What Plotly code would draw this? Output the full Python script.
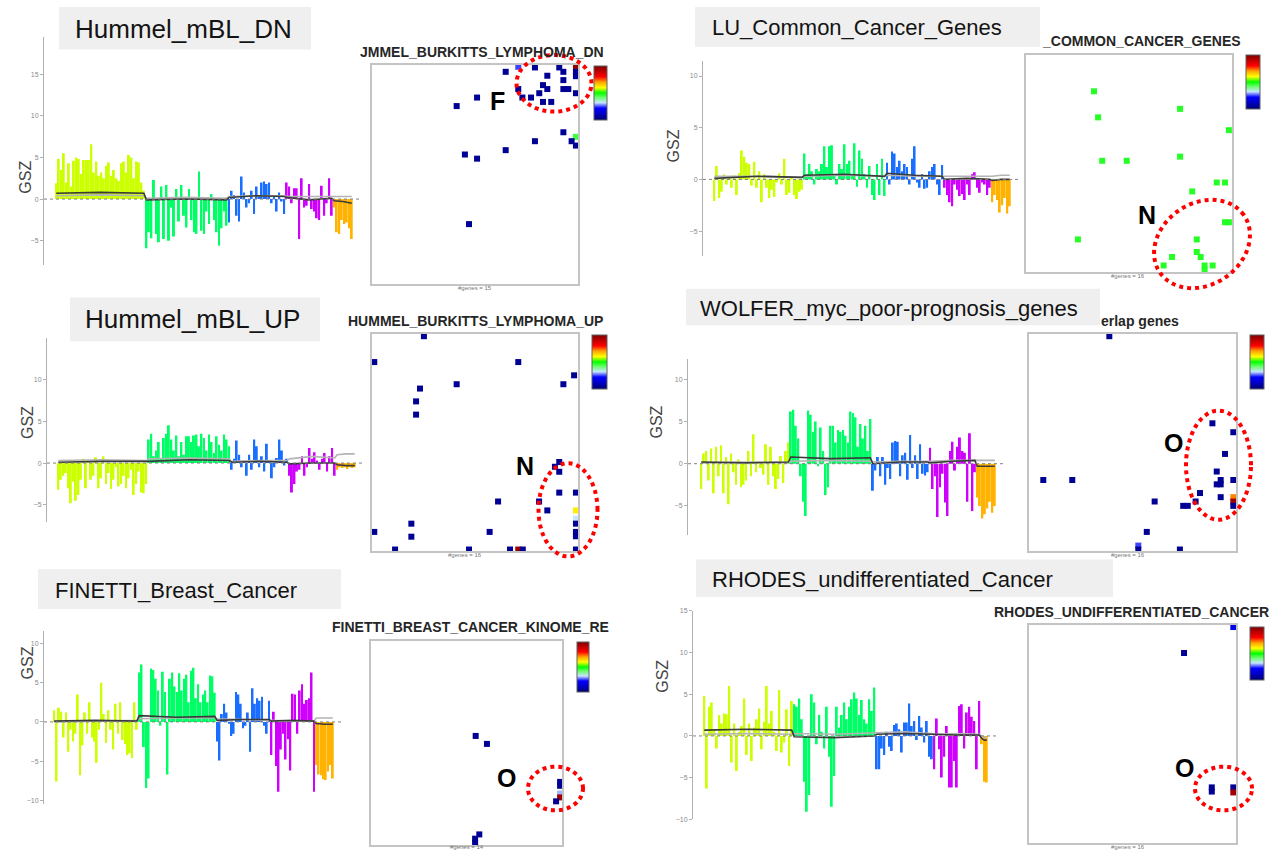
import numpy as np
import plotly.graph_objects as go

W, H = 1281, 852
FONT = "Liberation Sans, Arial, Helvetica, sans-serif"

# cluster colours: yellow, green, blue, purple, orange
GROUP_COLORS = ["#ccff00", "#00ff66", "#1a6eff", "#d000ff", "#ffb300"]

# ---------------- GSZ bars per cluster ----------------
dn_gsz = [
    [1.9, 4.8, 3.5, 5.5, 2.0, 4.3, 1.5, 4.6, 5.0, 4.8, 3.0, 4.7, 4.7, 4.7, 6.6, 3.2, 4.5, 2.8,
     3.2, 2.5, 4.0, 4.4, 2.8, 3.5, 2.5, 2.2, 4.3, 4.5, 3.2, 5.3, 5.0, 2.5, 4.5, 4.4, 2.0, 1.0],
    [-5.9, -4.0, -4.7, 2.3, -4.2, -5.2, 1.5, -4.8, 1.7, -5.0, -1.0, -4.5, 1.2, -2.7, 1.7, -2.0,
     -3.4, 1.2, -2.5, -4.0, -4.2, 3.3, -3.8, -4.2, -1.5, -3.0, 0.6, -2.5, -4.0, -5.6, -3.5, -1.5, -3.2],
    [-2.8, 1.0, 0.5, -2.0, -2.7, 2.7, 0.8, -1.0, -0.5, 1.0, -1.8, 1.5, 0.3, 2.0, 2.1, 1.8, 2.0,
     -0.5, 0.5, -1.5, 0.8, -0.3, -1.8],
    [2.0, 1.5, -0.5, 1.3, 1.3, -4.8, 2.5, -1.0, -0.8, 1.8, -1.2, -1.5, -2.3, -2.5, 1.6, -2.0,
     -0.5, 2.5, -2.0],
    [-1.0, -4.0, -4.2, -2.5, -3.0, -2.8, -3.5, -4.8],
]
lu_gsz = [
    [-2.1, 1.3, -1.8, -1.2, 0.5, -0.5, 0.3, -0.8, 0.4, -1.5, 0.6, 2.8, 2.2, 1.6, 1.5, -0.6, 1.7,
     -0.8, 0.8, -2.2, 0.5, -0.8, -1.8, -1.0, -1.7, -0.3, 0.6, -0.5, 2.0, -1.5, -1.3, 0.3, -1.5,
     -1.9, -1.2, -1.0],
    [2.5, 0.5, 1.5, 0.8, -0.5, 1.0, 0.8, 1.5, 3.2, 1.2, 3.2, 3.3, 0.5, -0.5, 1.5, 1.0, 3.4, 1.5,
     1.8, 0.5, 3.5, -0.7, 2.8, 2.0, 0.5, -0.8, 1.3, -1.5, -2.0, 1.5, -1.5, 2.0, -1.6],
    [1.6, -0.5, 2.7, 2.5, 1.2, 1.8, 0.8, 1.5, 1.2, -0.5, 2.0, 3.2, -0.3, -0.8, 0.5, -0.9, -0.8,
     0.8, 1.2, 1.5, -0.5, -1.5, 1.4],
    [-0.8, -1.5, -2.2, -2.6, -0.5, -1.0, -1.6, -1.4, -2.0, -0.5, -1.5, 0.5, 0.7, -0.8, -1.3,
     -0.3, -0.5, -1.5, -0.8],
    [-2.2, -1.5, -2.0, -3.2, -2.5, -1.8, -3.3, -2.6],
]
up_gsz = [
    [-3.2, -2.0, -1.5, -1.2, -3.0, -4.8, -2.2, -4.5, -3.8, -2.0, 0.5, -3.0, 0.3, -2.0, -1.5, 0.7,
     -3.0, -1.8, 0.8, -2.5, -1.2, -3.1, -2.0, -0.5, -2.8, -2.5, -1.5, -3.0, -1.8, -0.8, -3.8,
     -2.5, -1.0, -3.5, -3.6, -2.5],
    [2.8, 3.5, 0.8, 1.5, 2.5, 0.5, 3.0, 3.5, 4.5, 2.8, 1.5, 3.3, 0.8, 2.5, 1.0, 3.2, 3.2, 2.5,
     3.3, 3.4, 2.0, 3.5, 3.0, 1.5, 3.4, 2.5, 1.2, 3.2, 2.2, 1.5, 3.4, 2.8, 2.0],
    [-0.8, 0.5, 2.7, 1.0, -0.5, 0.3, -1.5, 1.0, -0.8, 2.8, 2.0, -0.5, 0.8, -1.0, 2.3, 0.3, -1.8,
     -0.5, 0.6, 2.8, 1.5, -0.3, 0.5],
    [-1.5, -3.5, -2.5, -1.0, -0.8, 0.8, -1.5, -0.5, 1.8, 0.5, 1.3, 0.3, -0.8, 0.5, 1.2, -1.0,
     0.8, 1.8, -1.5],
    [-0.8, -0.5, -0.6, -0.5, -0.7, -0.5, -0.6, -0.5],
]
wo_gsz = [
    [-3.0, 1.2, 1.5, -2.0, 1.8, -3.5, 2.0, -1.5, 2.2, -3.5, 0.8, -4.8, 1.2, -1.0, -2.5, 0.5,
     -2.8, -2.5, -2.0, 1.5, -1.5, 3.5, -1.0, 0.3, -0.5, -1.3, 2.3, -2.5, 2.0, -1.5, -3.0, -1.8,
     0.9, -2.3, 1.5, 2.5],
    [6.2, 6.4, 4.5, 3.0, -1.5, -4.5, -6.2, 6.3, 5.8, 3.8, 5.0, -0.3, 4.3, 1.5, -3.7, -2.8, 4.5,
     4.5, 2.5, 4.0, 3.8, 4.0, 3.3, 2.5, 6.2, 6.0, 5.5, 2.0, 4.7, 3.0, 4.5, 1.5, 5.3],
    [-3.2, -0.8, 0.8, -1.5, 0.8, -2.5, -0.5, -1.8, 2.5, 2.7, 2.6, -1.5, 1.0, 1.3, -1.9, 3.4,
     -0.5, 1.0, -1.8, 2.3, -1.2, -1.4, -1.0],
    [1.9, -3.0, -1.5, -6.3, -2.8, -1.2, -4.6, -6.2, 1.5, 2.6, -0.8, 2.0, 3.1, 1.5, 1.3, -4.5,
     3.6, -5.6, -1.0],
    [-4.0, -5.0, -6.5, -6.0, -5.3, -4.5, -5.8, -5.0],
]
fi_gsz = [
    [1.5, -7.6, 1.8, 1.3, -2.0, 1.2, -3.8, -1.0, -2.5, -1.5, 3.5, -6.8, -3.0, 1.2, -1.5, 2.5,
     -2.0, -2.5, -5.2, -1.0, 5.0, 1.0, -2.7, 1.5, -1.0, -3.5, 2.3, -1.5, 2.5, -2.3, -2.8, -4.2,
     -4.0, -4.6, 2.5, -1.0],
    [6.3, 7.3, -3.2, -8.4, -7.2, 6.8, 6.6, 5.5, 4.0, -0.5, 6.4, 3.8, -6.7, 5.5, 6.3, 4.5, 3.8,
     6.2, 4.0, 5.5, 6.0, 2.5, 6.5, 6.9, 3.0, 4.8, 2.5, 3.5, 4.0, 2.5, 5.9, 5.8, 3.7],
    [-2.5, -4.9, 1.0, 2.3, 1.2, -0.2, -1.8, -1.5, 3.8, 3.5, 2.3, -0.8, -0.5, 1.2, -3.8, 4.3,
     2.3, 3.0, 2.7, 3.2, -0.5, -1.5, 2.7],
    [-4.2, 1.3, -5.6, -8.9, -3.5, -1.5, -4.8, -2.2, -6.2, 3.6, 3.5, -1.5, 4.0, 4.8, 2.3, 2.8,
     3.0, 6.3, -8.9],
    [-5.5, -6.7, -6.8, -7.3, -7.4, -6.3, -5.5, -7.2],
]
rh_gsz = [
    [4.8, -6.3, 3.5, 4.0, 0.8, -1.5, 2.5, 1.5, 2.7, 2.6, 6.0, -3.2, 1.5, -4.2, 0.5, 1.2, 4.5,
     -2.3, 1.5, -3.0, 1.0, 2.0, 3.3, -1.6, 1.7, 6.0, 1.5, 3.0, 0.5, -1.8, 5.5, -2.0, -0.8, 3.2,
     -3.6, 4.2],
    [3.8, 3.5, 4.5, 2.0, -5.5, -9.1, -7.1, 5.0, 4.0, -1.0, 2.5, 0.5, -1.5, 3.5, -2.5, -8.5,
     -4.8, 3.5, 1.0, 2.5, 4.0, 2.0, 3.5, 4.4, 5.2, 4.5, 2.5, 4.3, 2.0, 1.5, 4.4, 3.0, 5.8],
    [-4.0, -4.0, -1.5, -2.3, 0.5, -1.3, -1.8, 1.3, 1.5, 0.8, -2.0, 1.6, 1.6, 3.9, 1.2, 1.8,
     -0.5, 2.4, 1.0, -0.8, 1.8, -2.5, -2.8],
    [-4.0, 2.1, -1.6, -5.0, -2.5, 1.2, -6.2, -6.2, -3.0, -6.2, 3.6, 3.8, -1.5, 2.8, 3.5, 2.3,
     1.8, -4.0, 4.2],
    [-1.0, -5.5, -5.6],
]

# ---------------- running-mean traces (start, middle, end of each cluster) ----------------
dn_dark = [[0.7, 0.8, 0.7], [-0.1, 0.0, -0.1], [0.2, 0.4, 0.3], [0.2, -0.1, 0.1], [-0.2, -0.3, -0.5]]
dn_light = [[0.4, 0.5, 0.4], [0.1, 0.2, 0.1], [0.3, 0.4, 0.4], [0.3, 0.3, 0.3], [0.3, 0.3, 0.3]]
lu_dark = [[0.1, 0.3, 0.2], [0.4, 0.5, 0.3], [0.6, 0.4, 0.3], [0.0, 0.1, 0.0], [-0.1, 0.0, 0.0]]
lu_light = [[0.3, 0.3, 0.2], [0.3, 0.4, 0.3], [0.4, 0.3, 0.3], [0.3, 0.3, 0.3], [0.3, 0.4, 0.4]]
up_dark = [[0.1, 0.2, 0.2], [0.2, 0.4, 0.3], [0.1, 0.2, 0.1], [-0.1, 0.0, 0.0], [-0.2, -0.3, -0.3]]
up_light = [[0.3, 0.4, 0.3], [0.5, 0.6, 0.5], [0.2, 0.3, 0.3], [0.5, 0.8, 0.6], [1.0, 1.1, 1.1]]
wo_dark = [[0.2, 0.1, 0.2], [0.8, 0.6, 0.7], [0.0, 0.2, 0.2], [0.1, 0.3, 0.4], [-0.3, -0.3, -0.3]]
wo_light = [[0.1, 0.2, 0.1], [0.3, 0.4, 0.3], [0.2, 0.3, 0.3], [0.3, 0.4, 0.4], [0.4, 0.4, 0.4]]
fi_dark = [[0.1, 0.2, 0.1], [0.8, 0.6, 0.7], [0.2, 0.3, 0.3], [0.1, 0.2, 0.1], [-0.2, -0.3, -0.3]]
fi_light = [[0.0, 0.1, 0.2], [0.4, 0.5, 0.5], [0.4, 0.3, 0.2], [0.1, 0.1, 0.1], [0.5, 0.5, 0.5]]
rh_dark = [[0.7, 0.8, 0.7], [-0.1, -0.2, 0.0], [0.2, 0.3, 0.2], [0.2, 0.1, 0.1], [-0.3, -0.5, -0.5]]
rh_light = [[0.2, 0.3, 0.2], [0.3, 0.2, 0.4], [0.4, 0.5, 0.3], [0.2, 0.3, 0.2], [0.0, -0.2, -0.3]]

# ---------------- overlap-gene positions (rank %, rank %, colour value) ----------------
dn_x = [64.9, 71.0, 79.1, 90.9, 92.9, 99.0, 99.0, 99.0, 85.1, 92.9, 83.0, 71.0, 85.1, 92.9, 95.3,
        81.2, 99.0, 73.0, 77.2, 83.0, 87.0, 51.0, 41.1, 92.9, 99.0, 79.1, 96.9, 99.0, 64.9, 45.1,
        51.0, 47.1]
dn_y = [97.1, 99.4, 99.1, 99.1, 97.1, 99.1, 97.1, 95.1, 95.3, 93.3, 91.0, 89.2, 89.2, 89.2, 89.2,
        87.3, 87.3, 85.3, 85.3, 83.3, 83.3, 85.3, 81.4, 69.4, 67.3, 65.3, 65.3, 63.3, 61.2, 59.2,
        57.3, 27.3]
dn_v = [0.05, 0.25, 0.05, 0.05, 0.05, 0.97, 0.05, 0.05, 0.05, 0.05, 0.05, 0.05, 0.05, 0.05, 0.05,
        0.05, 0.05, 0.05, 0.05, 0.05, 0.05, 0.05, 0.05, 0.05, 0.45, 0.05, 0.05, 0.05, 0.05, 0.05,
        0.05, 0.05]

lu_x = [33.0, 35.0, 74.8, 98.5, 37.0, 48.9, 74.8, 80.7, 92.6, 96.6, 96.6, 98.5, 25.2, 82.9, 70.9,
        82.9, 84.8, 66.8, 86.7, 86.7, 90.6]
lu_y = [83.1, 71.1, 75.0, 65.2, 51.1, 51.1, 53.0, 37.0, 41.1, 41.1, 22.8, 22.8, 14.9, 14.9, 6.8,
        9.1, 6.8, 2.9, 2.9, 0.9, 2.9]
lu_v = [0.47] * 21

up_x = [25.2, 1.1, 71.0, 98.1, 41.1, 92.9, 23.3, 21.4, 21.4, 90.9, 88.8, 90.9, 90.9, 99.0, 61.2,
        81.1, 85.1, 99.0, 99.0, 99.0, 99.0, 99.0, 19.1, 1.1, 19.1, 57.1, 11.2, 47.1, 67.0, 71.0,
        73.2, 99.0]
up_y = [99.1, 87.2, 87.2, 81.1, 77.0, 77.0, 75.0, 69.1, 63.0, 41.2, 39.0, 36.7, 27.1, 27.1, 23.0,
        23.0, 18.9, 18.9, 15.1, 12.8, 9.0, 7.0, 12.8, 9.0, 6.8, 9.0, 0.9, 0.9, 0.9, 0.9, 0.9, 0.9]
up_v = [0.05, 0.05, 0.05, 0.05, 0.05, 0.05, 0.05, 0.05, 0.05, 0.05, 0.05, 0.05, 0.05, 0.05, 0.05,
        0.05, 0.05, 0.62, 0.32, 0.05, 0.05, 0.05, 0.05, 0.05, 0.05, 0.05, 0.05, 0.05, 0.05, 0.95,
        0.05, 0.05]

wo_x = [38.8, 88.6, 98.7, 94.7, 90.7, 92.6, 90.7, 92.6, 98.7, 82.6, 92.6, 98.7, 98.7, 98.7, 6.9,
        20.9, 60.7, 74.5, 76.7, 80.5, 56.9, 52.8, 52.8, 72.9]
wo_y = [99.1, 59.0, 54.9, 44.9, 36.8, 32.9, 30.9, 30.9, 32.9, 26.9, 25.0, 25.0, 23.0, 21.0, 32.9,
        32.9, 23.0, 21.0, 21.0, 23.0, 9.0, 2.7, 0.9, 0.9]
wo_v = [0.05, 0.05, 0.05, 0.05, 0.05, 0.05, 0.05, 0.05, 0.05, 0.05, 0.05, 0.72, 0.95, 0.05, 0.05,
        0.05, 0.05, 0.05, 0.05, 0.05, 0.05, 0.25, 0.05, 0.05]

fi_x = [54.8, 60.7, 99.0, 99.0, 99.0, 99.0, 96.9, 56.7, 54.5, 54.5]
fi_y = [53.4, 49.5, 30.9, 29.0, 25.2, 23.3, 21.4, 5.2, 3.1, 1.1]
fi_v = [0.05, 0.05, 0.05, 0.05, 0.3, 0.95, 0.05, 0.05, 0.05, 0.05]

rh_x = [98.7, 74.9, 88.3, 88.3, 98.7, 98.7]
rh_y = [99.0, 87.1, 25.5, 23.6, 25.5, 23.2]
rh_v = [0.18, 0.05, 0.05, 0.05, 0.05, 0.95]

OVERLAP_SCALE = [
    [0.0, "#000070"], [0.12, "#0000c8"], [0.22, "#0000ff"], [0.32, "#c8e4ff"],
    [0.42, "#66ff66"], [0.5, "#00ff00"], [0.6, "#ffff00"], [0.7, "#ffa500"],
    [0.8, "#ff0000"], [1.0, "#800000"],
]

# ---------------- panel geometry (pixels) ----------------
panels = [
    dict(label="Hummel_mBL_DN", label_box=(59, 3, 311, 46), label_xy=(73, 25), label_size=26,
         gsz=dn_gsz, dark=dn_dark, light=dn_light, yrange=(-7.9, 19.5), ticks=[-5, 0, 5, 10, 15],
         axis_x=43, bar_x=(55, 353), bar_y=(33, 263), gsz_xy=(15, 156),
         title="JMMEL_BURKITTS_LYMPHOMA_DN", title_xy=(482, 48), title_anchor="center",
         box=(372, 62, 578, 282), cb=(594, 63, 607, 117), pts=(dn_x, dn_y, dn_v),
         ring=(554, 80, 37.5, 28.5, 0), letter="F", letter_xy=(497, 98),
         genes="#genes = 15", genes_xy=(475, 286)),
    dict(label="LU_Common_Cancer_Genes", label_box=(695, 3, 1040, 43), label_xy=(710, 24),
         label_size=22, gsz=lu_gsz, dark=lu_dark, light=lu_light, yrange=(-7.4, 11.5),
         ticks=[-5, 0, 5, 10], axis_x=702, bar_x=(713, 1011), bar_y=(57, 254), gsz_xy=(673, 125),
         title="_COMMON_CANCER_GENES", title_xy=(1141, 37), title_anchor="center",
         box=(1026, 51, 1232, 270), cb=(1246, 52, 1260, 106), pts=(lu_x, lu_y, lu_v),
         ring=(1202, 242, 51, 41, 35), letter="N", letter_xy=(1147, 213),
         genes="#genes = 16", genes_xy=(1128, 274)),
    dict(label="Hummel_mBL_UP", label_box=(70, 296, 320, 340), label_xy=(83, 318), label_size=26,
         gsz=up_gsz, dark=up_dark, light=up_light, yrange=(-7.0, 14.9), ticks=[-5, 0, 5, 10],
         axis_x=46, bar_x=(57, 356), bar_y=(337, 522), gsz_xy=(17, 422),
         title="HUMMEL_BURKITTS_LYMPHOMA_UP", title_xy=(475, 320), title_anchor="center",
         box=(372, 333, 578, 552), cb=(592, 334, 607, 388), pts=(up_x, up_y, up_v),
         ring=(568, 510, 29.5, 47, 0), letter="N", letter_xy=(525, 466),
         genes="#genes = 16", genes_xy=(465, 556)),
    dict(label="WOLFER_myc_poor-prognosis_genes", label_box=(686, 287, 1100, 324),
         label_xy=(698, 307), label_size=22, gsz=wo_gsz, dark=wo_dark, light=wo_light,
         yrange=(-8.4, 12.4), ticks=[-5, 0, 5, 10], axis_x=687, bar_x=(700, 996),
         bar_y=(358, 535), gsz_xy=(657, 422),
         title="erlap genes", title_xy=(1140, 320), title_anchor="center",
         box=(1029, 333, 1236, 552), cb=(1250, 334, 1264, 388), pts=(wo_x, wo_y, wo_v),
         ring=(1218.5, 465, 32.5, 55, 0), letter="O", letter_xy=(1173, 443),
         genes="#genes = 16", genes_xy=(1128, 556)),
    dict(label="FINETTI_Breast_Cancer", label_box=(38, 570, 341, 610), label_xy=(53, 591),
         label_size=22, gsz=fi_gsz, dark=fi_dark, light=fi_light, yrange=(-10.5, 11.6),
         ticks=[-10, -5, 0, 5, 10], axis_x=43, bar_x=(53, 334), bar_y=(632, 807),
         gsz_xy=(17, 683), title="FINETTI_BREAST_CANCER_KINOME_RE", title_xy=(330, 628),
         title_anchor="left", box=(371, 642, 562, 848), cb=(577, 643, 589, 693),
         pts=(fi_x, fi_y, fi_v), ring=(555.5, 791, 27.5, 22, 0), letter="O",
         letter_xy=(506, 780), genes="#genes = 14", genes_xy=(467, 850)),
    dict(label="RHODES_undifferentiated_Cancer", label_box=(696, 560, 1113, 598),
         label_xy=(710, 580), label_size=22, gsz=rh_gsz, dark=rh_dark, light=rh_light,
         yrange=(-10.0, 15.0), ticks=[-10, -5, 0, 5, 10, 15], axis_x=692, bar_x=(703, 988),
         bar_y=(612, 822), gsz_xy=(663, 697),
         title="RHODES_UNDIFFERENTIATED_CANCER", title_xy=(1131, 613), title_anchor="center",
         box=(1029, 626, 1236, 846), cb=(1250, 628, 1264, 681), pts=(rh_x, rh_y, rh_v),
         ring=(1223.5, 791, 28.5, 22, 0), letter="O", letter_xy=(1184, 770),
         genes="#genes = 16", genes_xy=(1128, 850)),
]


def px(x):
    return x / W


def py(y):
    return 1 - y / H


def ring_path(cx, cy, rx, ry, angle):
    t = np.linspace(0, 2 * np.pi, 91)
    a = np.deg2rad(angle)
    xs = cx + rx * np.cos(t) * np.cos(a) - ry * np.sin(t) * np.sin(a)
    ys = cy - (rx * np.cos(t) * np.sin(a) + ry * np.sin(t) * np.cos(a))
    pts = [f"{px(x):.5f},{py(y):.5f}" for x, y in zip(xs, ys)]
    return "M" + " L".join(pts) + " Z"


fig = go.Figure()
shapes, annotations, axes = [], [], {}

for i, p in enumerate(panels):
    kb, ks = 2 * i + 1, 2 * i + 2
    xb = "x" if kb == 1 else f"x{kb}"
    yb = "y" if kb == 1 else f"y{kb}"
    xs_, ys_ = f"x{ks}", f"y{ks}"

    # ---- GSZ bar chart ----
    start = 0
    for g, vals in enumerate(p["gsz"]):
        n = len(vals)
        fig.add_trace(go.Bar(x=list(range(start, start + n)), y=vals, width=0.78,
                             marker=dict(color=GROUP_COLORS[g], line=dict(width=0)),
                             xaxis=xb, yaxis=yb, hoverinfo="skip"))
        start += n
    total = start

    for series, colour in ((p["light"], "#b4b4b4"), (p["dark"], "#3a3a3a")):
        tx, ty = [], []
        s0 = 0
        for g, vals in enumerate(p["gsz"]):
            n = len(vals)
            tx += [s0, s0 + (n - 1) / 2, s0 + n - 1]
            ty += series[g]
            s0 += n
        fig.add_trace(go.Scatter(x=tx, y=ty, mode="lines", line=dict(color=colour, width=1.6),
                                 xaxis=xb, yaxis=yb, hoverinfo="skip"))

    bx0, bx1 = p["bar_x"]
    by0, by1 = p["bar_y"]
    axes["xaxis" if kb == 1 else f"xaxis{kb}"] = dict(
        domain=[px(bx0), px(bx1)], range=[-0.5, total - 0.5], visible=False,
        anchor=yb, fixedrange=True)
    axes["yaxis" if kb == 1 else f"yaxis{kb}"] = dict(
        domain=[py(by1), py(by0)], range=list(p["yrange"]), anchor="free",
        position=px(p["axis_x"]), showline=True, linecolor="#b0b0b0", linewidth=1,
        ticks="outside", ticklen=3, tickcolor="#b0b0b0", tickvals=p["ticks"],
        tickfont=dict(family=FONT, size=7, color="#8a8a8a"), showgrid=False,
        zeroline=False, fixedrange=True)
    shapes.append(dict(type="line", xref="paper", yref=yb, x0=px(p["axis_x"] + 1),
                       x1=px(bx1 + 8), y0=0, y1=0,
                       line=dict(color="#808080", width=1, dash="dot")))
    annotations.append(dict(text="GSZ", xref="paper", yref="paper", x=px(p["gsz_xy"][0]),
                            y=py(p["gsz_xy"][1]), textangle=-90, showarrow=False,
                            font=dict(family=FONT, size=16, color="#444444")))

    # ---- label box ----
    lx0, ly0, lx1, ly1 = p["label_box"]
    shapes.append(dict(type="rect", xref="paper", yref="paper", x0=px(lx0), x1=px(lx1),
                       y0=py(ly1), y1=py(ly0), fillcolor="#efefef", line=dict(width=0),
                       layer="above"))
    annotations.append(dict(text=p["label"], xref="paper", yref="paper",
                            x=px(p["label_xy"][0]), y=py(p["label_xy"][1]), xanchor="left",
                            yanchor="middle", showarrow=False,
                            font=dict(family=FONT, size=p["label_size"], color="#141414")))

    # ---- overlap map ----
    sx0, sy0, sx1, sy1 = p["box"]
    cx0, cy0, cx1, cy1 = p["cb"]
    ox, oy, ov = p["pts"]
    fig.add_trace(go.Scatter(
        x=ox, y=oy, mode="markers", xaxis=xs_, yaxis=ys_, cliponaxis=False, hoverinfo="skip",
        marker=dict(symbol="square", size=6, color=ov, colorscale=OVERLAP_SCALE, cmin=0, cmax=1,
                    showscale=True,
                    colorbar=dict(x=px(cx0), xanchor="left", y=py((cy0 + cy1) / 2),
                                  yanchor="middle", len=cy1 - cy0, lenmode="pixels",
                                  thickness=cx1 - cx0, thicknessmode="pixels", xpad=0, ypad=0,
                                  outlinewidth=1, outlinecolor="#606060",
                                  showticklabels=False, ticks=""))))
    axes[f"xaxis{ks}"] = dict(domain=[px(sx0), px(sx1)], range=[0, 100], anchor=ys_,
                              showline=True, mirror=True, linecolor="#c4c4c4", linewidth=2,
                              showticklabels=False, ticks="", showgrid=False, zeroline=False,
                              fixedrange=True)
    axes[f"yaxis{ks}"] = dict(domain=[py(sy1), py(sy0)], range=[0, 100], anchor=xs_,
                              showline=True, mirror=True, linecolor="#c4c4c4", linewidth=2,
                              showticklabels=False, ticks="", showgrid=False, zeroline=False,
                              fixedrange=True)
    annotations.append(dict(text=f"<b>{p['title']}</b>", xref="paper", yref="paper",
                            x=px(p["title_xy"][0]), y=py(p["title_xy"][1]),
                            xanchor=p["title_anchor"], yanchor="middle", showarrow=False,
                            font=dict(family=FONT, size=14, color="#262626")))
    annotations.append(dict(text=p["genes"], xref="paper", yref="paper",
                            x=px(p["genes_xy"][0]), y=py(p["genes_xy"][1]), xanchor="center",
                            yanchor="middle", showarrow=False,
                            font=dict(family=FONT, size=6, color="#777777")))
    annotations.append(dict(text=f"<b>{p['letter']}</b>", xref="paper", yref="paper",
                            x=px(p["letter_xy"][0]), y=py(p["letter_xy"][1]), xanchor="center",
                            yanchor="middle", showarrow=False,
                            font=dict(family=FONT, size=25, color="#000000")))
    shapes.append(dict(type="path", xref="paper", yref="paper", path=ring_path(*p["ring"]),
                       line=dict(color="#ff0000", width=4, dash="dot"), layer="above"))

fig.update_layout(
    width=W, height=H, margin=dict(l=0, r=0, t=0, b=0), paper_bgcolor="white",
    plot_bgcolor="rgba(0,0,0,0)", showlegend=False, barmode="overlay",
    shapes=shapes, annotations=annotations, **axes)

fig.write_html("out.html")
